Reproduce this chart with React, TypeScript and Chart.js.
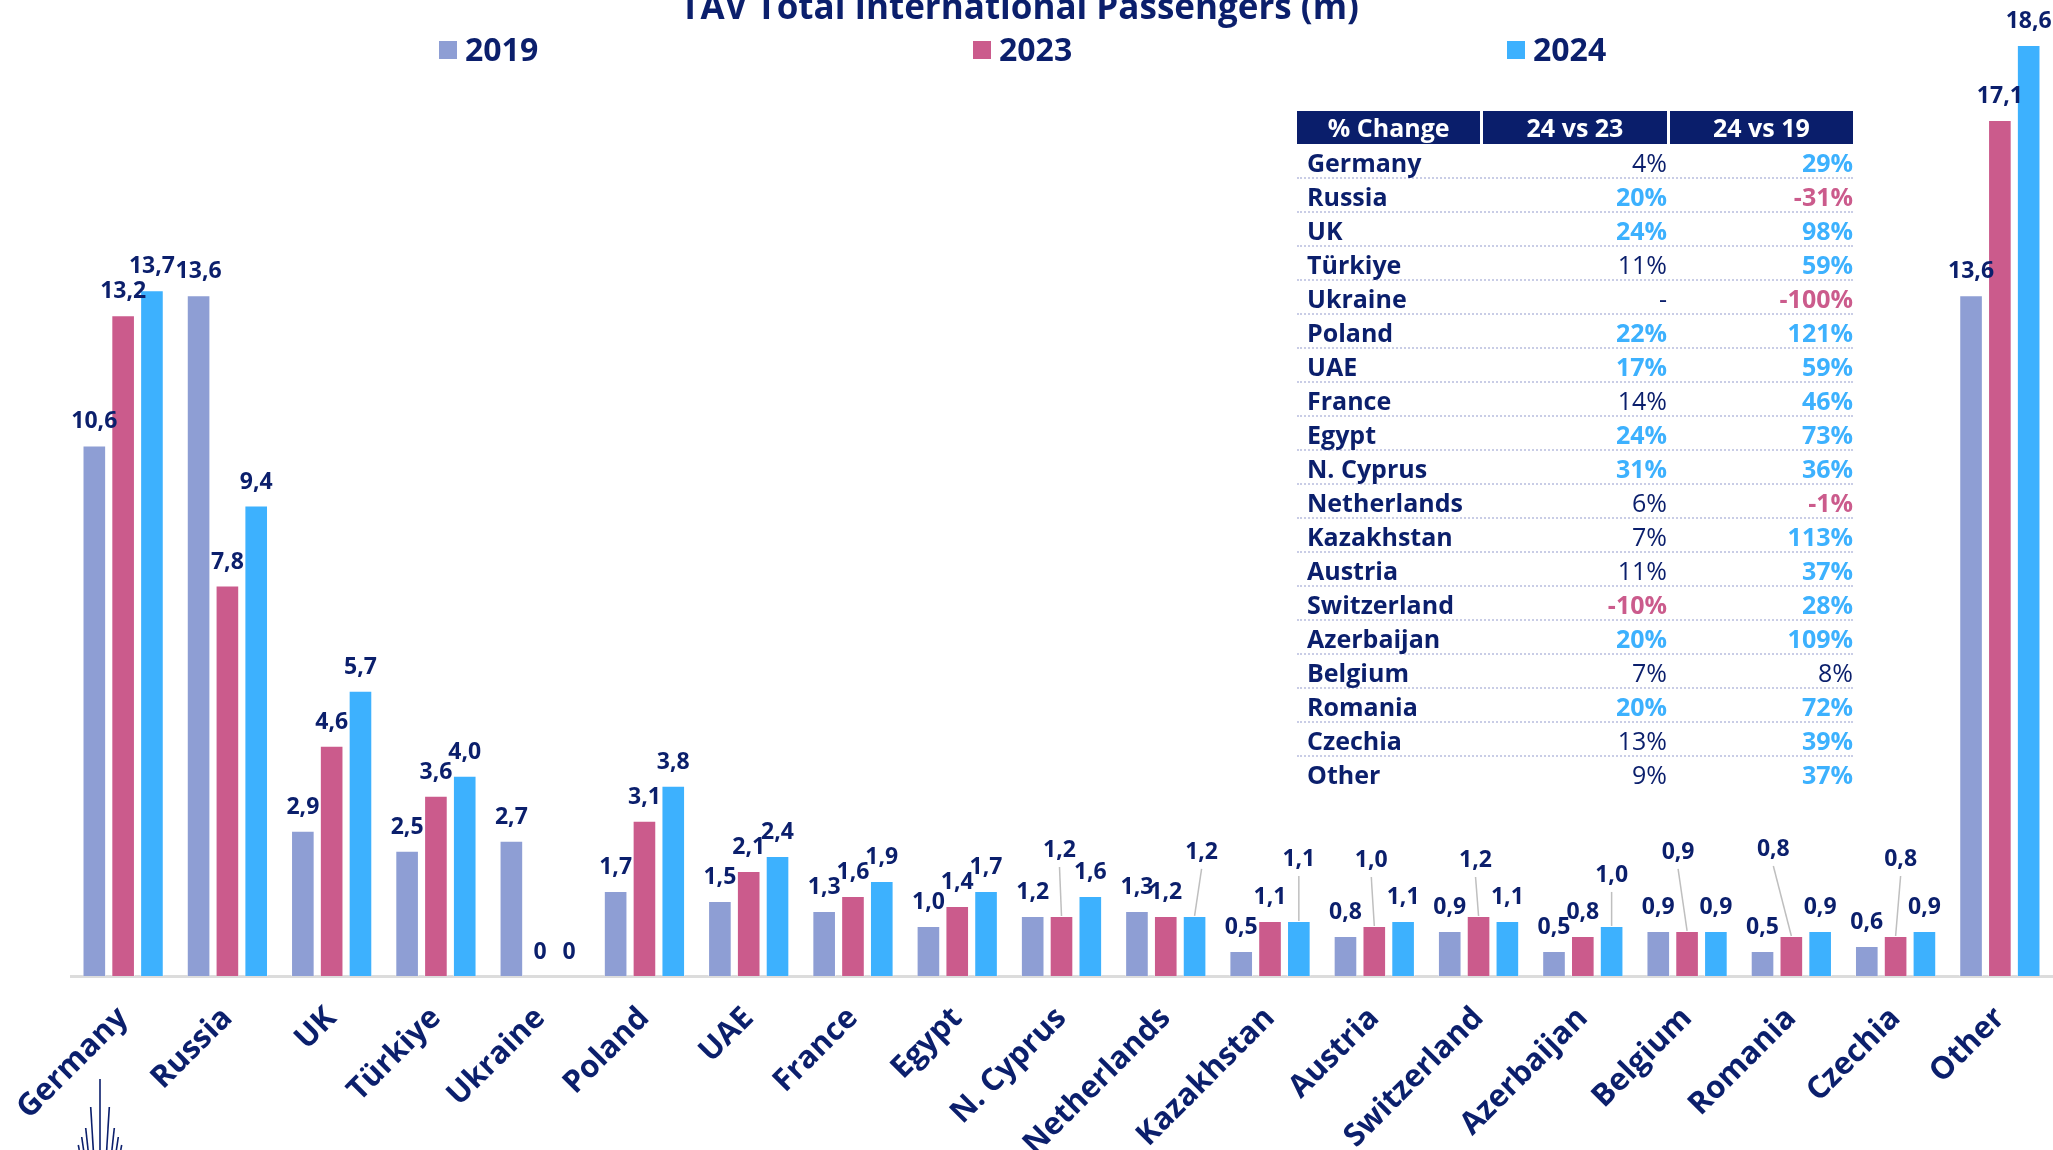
import React, { useEffect, useRef } from 'react';
import { Chart, registerables } from 'chart.js';

Chart.register(...registerables);

// ---------- DATA ----------
const categories = ['Germany', 'Russia', 'UK', 'Türkiye', 'Ukraine', 'Poland', 'UAE', 'France', 'Egypt', 'N. Cyprus', 'Netherlands', 'Kazakhstan', 'Austria', 'Switzerland', 'Azerbaijan', 'Belgium', 'Romania', 'Czechia', 'Other'];
const seriesLabels = ['2019', '2023', '2024'];
const pax2019 = [10.6, 13.6, 2.9, 2.5, 2.7, 1.7, 1.5, 1.3, 1.0, 1.2, 1.3, 0.5, 0.8, 0.9, 0.5, 0.9, 0.5, 0.6, 13.6];
const pax2023 = [13.2, 7.8, 4.6, 3.6, 0, 3.1, 2.1, 1.6, 1.4, 1.2, 1.2, 1.1, 1.0, 1.2, 0.8, 0.9, 0.8, 0.8, 17.1];
const pax2024 = [13.7, 9.4, 5.7, 4.0, 0, 3.8, 2.4, 1.9, 1.7, 1.6, 1.2, 1.1, 1.1, 1.1, 1.0, 0.9, 0.9, 0.9, 18.6];
const change24vs23: (number | null)[] = [4, 20, 24, 11, null, 22, 17, 14, 24, 31, 6, 7, 11, -10, 20, 7, 20, 13, 9];
const change24vs19: (number | null)[] = [29, -31, 98, 59, -100, 121, 59, 46, 73, 36, -1, 113, 37, 28, 109, 8, 72, 39, 37];
const tableHeaders = ['% Change', '24 vs 23', '24 vs 19'];
const chartTitle = 'TAV Total International Passengers (m)';

// ---------- STYLE ----------
const FONT = '"Open Sans", "Noto Sans", sans-serif';
const NAVY = '#0B1F6C';
const HEADER_BG = '#0A1E6B';
const C2019 = '#8E9ED4';
const C2023 = '#CB5B8C';
const C2024 = '#3DB1FE';
const seriesColors = [C2019, C2023, C2024];

// label call-outs (dataset-index -> extra offset, px) with leader lines
const CALLOUTS: Record<string, { dx: number; lift: number }> = {
  '1-9': { dx: -2, lift: 42 },
  '2-10': { dx: 7, lift: 40 },
  '2-11': { dx: 0, lift: 38 },
  '1-12': { dx: -3, lift: 42 },
  '1-13': { dx: -3, lift: 32 },
  '2-14': { dx: 0, lift: 27 },
  '1-15': { dx: -9, lift: 55 },
  '1-16': { dx: -18, lift: 63 },
  '1-17': { dx: 5, lift: 53 },
};

const fmt = (v: number) => (v === 0 ? '0' : v.toFixed(1).replace('.', ','));

const valueLabelPlugin = {
  id: 'valueLabels',
  afterDatasetsDraw(chart: any) {
    const ctx = chart.ctx;
    ctx.save();
    ctx.font = `bold 23px ${FONT}`;
    ctx.textAlign = 'center';
    ctx.textBaseline = 'alphabetic';
    chart.data.datasets.forEach((ds: any, di: number) => {
      const meta = chart.getDatasetMeta(di);
      meta.data.forEach((el: any, i: number) => {
        const v = ds.data[i] as number;
        const c = CALLOUTS[`${di}-${i}`];
        const x = el.x + (c ? c.dx : 0);
        const base = el.y - 17 - (c ? c.lift : 0);
        if (c) {
          ctx.strokeStyle = '#BFBFBF';
          ctx.lineWidth = 1.5;
          ctx.beginPath();
          ctx.moveTo(x, base + 10);
          ctx.lineTo(el.x, el.y);
          ctx.stroke();
        }
        ctx.fillStyle = NAVY;
        ctx.fillText(fmt(v), x, base);
      });
    });
    ctx.restore();
  },
};

const headerPlugin = {
  id: 'headerLegend',
  afterDraw(chart: any) {
    const ctx = chart.ctx;
    ctx.save();
    ctx.fillStyle = NAVY;
    ctx.textAlign = 'center';
    ctx.textBaseline = 'alphabetic';
    ctx.font = `bold 35px ${FONT}`;
    ctx.fillText(chartTitle, 1019.5, 18.5);
    ctx.font = `bold 32px ${FONT}`;
    ctx.textAlign = 'left';
    chart.data.datasets.forEach((ds: any, i: number) => {
      const x0 = 439 + i * 534;
      ctx.fillStyle = ds.backgroundColor;
      ctx.fillRect(x0, 41, 18, 18);
      ctx.fillStyle = NAVY;
      ctx.fillText(ds.label, x0 + 26, 61);
    });
    ctx.restore();
  },
};

function pctStyle(v: number | null): React.CSSProperties {
  if (v === null) return { color: NAVY, fontWeight: 400 };
  if (v < 0) return { color: C2023, fontWeight: 700 };
  if (v >= 15) return { color: C2024, fontWeight: 700 };
  return { color: NAVY, fontWeight: 400 };
}
const pctText = (v: number | null) => (v === null ? '-' : `${v}%`);

function ChangeTable() {
  return (
    <div style={{ position: 'absolute', left: 1297, top: 111, width: 556, fontFamily: FONT }}>
      <div style={{ display: 'flex', gap: 3, height: 33 }}>
        {tableHeaders.map((h) => (
          <div key={h} style={{ flex: 1, background: HEADER_BG, color: '#fff', fontWeight: 700, fontSize: 25, lineHeight: '33px', textAlign: 'center' }}>{h}</div>
        ))}
      </div>
      <div style={{ height: 1 }} />
      {categories.map((c, i) => (
        <div key={c} style={{ position: 'relative', height: 34, boxSizing: 'border-box', borderBottom: i < categories.length - 1 ? '2px dotted #C9CDE6' : 'none', fontSize: 25, lineHeight: '34px' }}>
          <span style={{ position: 'absolute', left: 10, top: 0, color: NAVY, fontWeight: 700 }}>{c}</span>
          <span style={{ position: 'absolute', right: 186, top: 0, ...pctStyle(change24vs23[i]) }}>{pctText(change24vs23[i])}</span>
          <span style={{ position: 'absolute', right: 0, top: 0, ...pctStyle(change24vs19[i]) }}>{pctText(change24vs19[i])}</span>
        </div>
      ))}
    </div>
  );
}

function Logo() {
  const tops: [number, number][] = [[100, 1079], [90.7, 1107], [109.3, 1107], [85.7, 1128], [114.3, 1128], [81.7, 1137], [118.3, 1137], [78.3, 1145], [121.7, 1145]];
  const fx = 100, fy = 1260;
  return (
    <svg style={{ position: 'absolute', left: 0, top: 0 }} width={2053} height={1150}>
      {tops.map(([x, y], k) => {
        const x2 = x + (fx - x) * (1150 - y) / (fy - y);
        return <line key={k} x1={x} y1={y} x2={x2} y2={1150} stroke={NAVY} strokeWidth={1.6} />;
      })}
    </svg>
  );
}

export default function App() {
  const ref = useRef<HTMLCanvasElement | null>(null);
  useEffect(() => {
    document.body.style.margin = '0';
    const canvas = ref.current!;
    const chart = new Chart(canvas, {
      type: 'bar',
      data: {
        labels: categories,
        datasets: [pax2019, pax2023, pax2024].map((d, i) => ({
          label: seriesLabels[i],
          data: d,
          backgroundColor: seriesColors[i],
          borderColor: 'rgba(255,255,255,0.55)',
          borderWidth: 1,
          categoryPercentage: 0.829,
          barPercentage: 0.82,
        })),
      },
      options: {
        responsive: false,
        animation: false,
        devicePixelRatio: 1,
        layout: { padding: { left: 71, right: 1, top: 0, bottom: 0 } },
        plugins: { legend: { display: false }, title: { display: false }, tooltip: { enabled: false } },
        scales: {
          y: { display: false, min: 0, max: 19.5 },
          x: {
            grid: { display: false, drawTicks: false },
            border: { display: true, color: '#DCDCDC', width: 3 },
            ticks: {
              color: NAVY,
              font: { family: FONT, size: 31, weight: 'bold' },
              minRotation: 45,
              maxRotation: 45,
              autoSkip: false,
              padding: 24,
            },
            afterFit: (s: any) => {
              s.height = 174;
              s.paddingLeft = 0;
              s.paddingRight = 0;
            },
          },
        },
      },
      plugins: [valueLabelPlugin, headerPlugin],
    } as any);
    return () => chart.destroy();
  }, []);
  return (
    <div style={{ position: 'absolute', left: 0, top: 0, width: 2053, height: 1150, background: '#fff', overflow: 'hidden' }}>
      <canvas ref={ref} width={2053} height={1150} style={{ position: 'absolute', left: 0, top: 0, width: 2053, height: 1150 }} />
      <ChangeTable />
      <Logo />
    </div>
  );
}
